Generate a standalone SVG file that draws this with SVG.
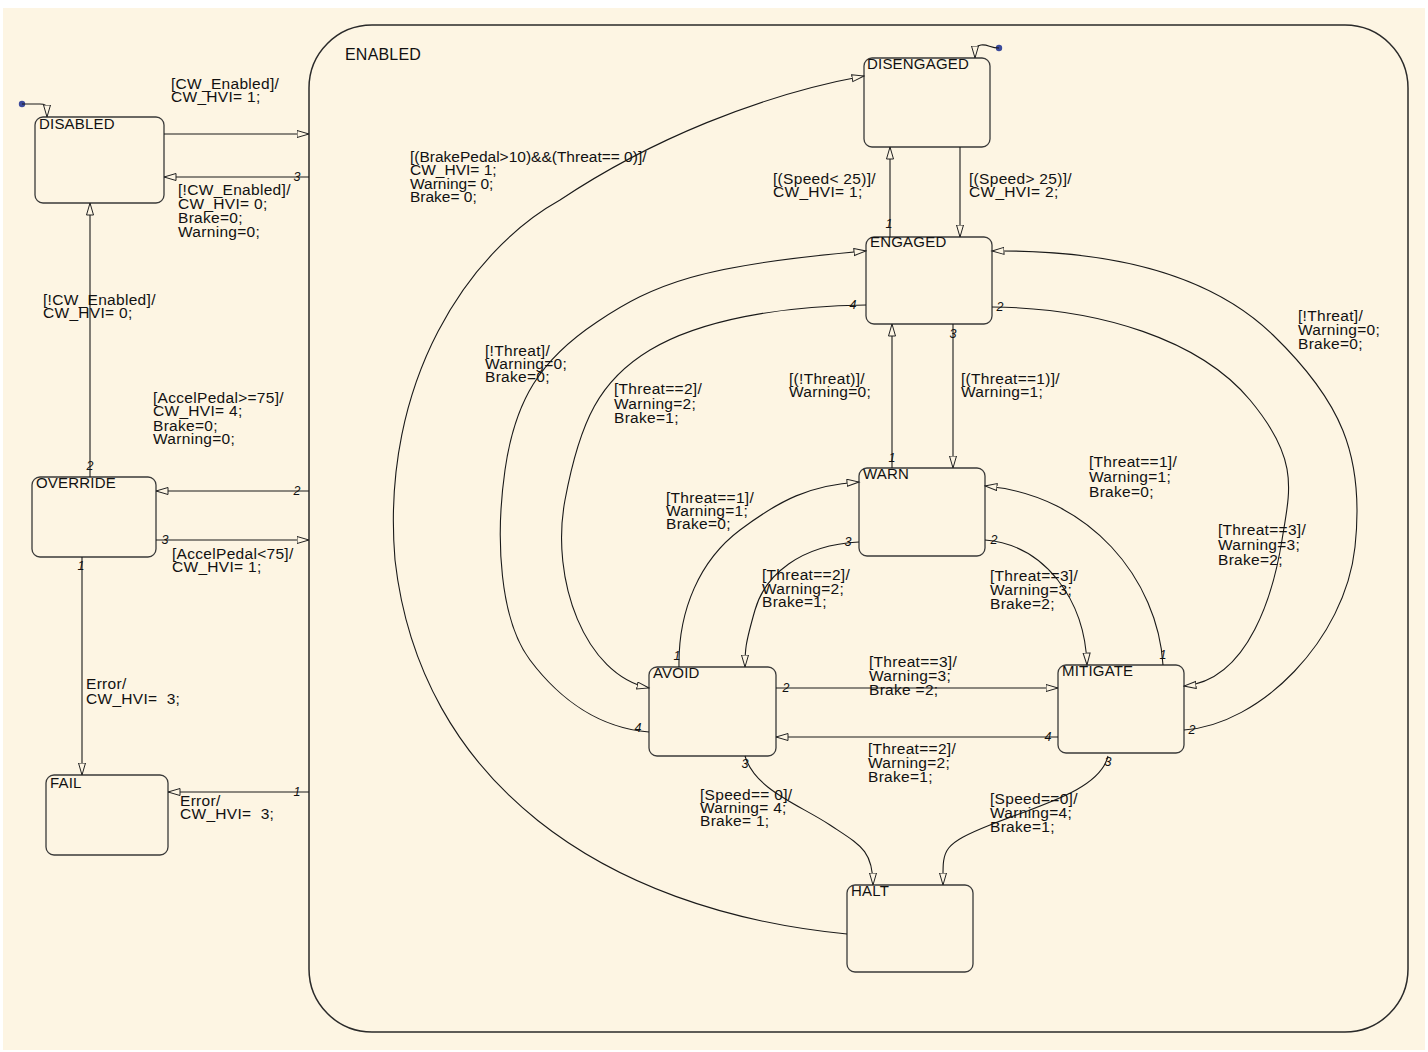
<svg xmlns="http://www.w3.org/2000/svg" width="1428" height="1052" viewBox="0 0 1428 1052">
<defs>
<style>
.bg{fill:#FDF5E3}
.st{fill:#FDF5E3;stroke:#3a3a3a;stroke-width:1.3}
.sup{fill:none;stroke:#2a2a2a;stroke-width:1.5}
.name{font-family:"Liberation Sans",Arial,sans-serif;font-size:15px;fill:#111;letter-spacing:0.2px}
.lbl{font-family:"Liberation Sans",Arial,sans-serif;font-size:15.5px;fill:#111;letter-spacing:0.3px}
.num{font-family:"Liberation Sans",Arial,sans-serif;font-size:12.5px;font-style:italic;fill:#111;text-anchor:middle}
.tr{fill:none;stroke:#1a1a1a;stroke-width:1.1;marker-end:url(#arr)}
.dot{fill:#3b4a9c}
</style>
<marker id="arr" markerWidth="14" markerHeight="10" refX="12.5" refY="4" orient="auto" markerUnits="userSpaceOnUse">
<path d="M0.5,0.5 L12.5,4 L0.5,7.5 Z" fill="#FDF5E3" stroke="#222" stroke-width="1"/>
</marker>
</defs>
<rect x="0" y="0" width="1428" height="1052" fill="#ffffff"/>
<rect class="bg" x="3" y="8" width="1422" height="1042"/>

<g id="ENABLED">
<rect class="sup" x="309" y="25" width="1099" height="1007" rx="63" ry="63"/>
<text class="name" x="345" y="60" style="font-size:16px">ENABLED</text>
</g>

<g id="DISABLED"><rect class="st" x="35" y="117" width="129" height="86" rx="8"/><text class="name" x="39" y="129">DISABLED</text></g>
<g id="OVERRIDE"><rect class="st" x="32" y="477" width="124" height="80" rx="8"/><text class="name" x="36" y="488">OVERRIDE</text></g>
<g id="FAIL"><rect class="st" x="46" y="775" width="122" height="80" rx="8"/><text class="name" x="50" y="788">FAIL</text></g>
<g id="DISENGAGED"><rect class="st" x="864" y="58" width="126" height="89" rx="8"/><text class="name" x="867" y="69">DISENGAGED</text></g>
<g id="ENGAGED"><rect class="st" x="866" y="237" width="126" height="87" rx="8"/><text class="name" x="870" y="247">ENGAGED</text></g>
<g id="WARN"><rect class="st" x="859" y="468" width="126" height="88" rx="8"/><text class="name" x="863" y="479">WARN</text></g>
<g id="AVOID"><rect class="st" x="649" y="667" width="127" height="89" rx="8"/><text class="name" x="653" y="678">AVOID</text></g>
<g id="MITIGATE"><rect class="st" x="1058" y="665" width="126" height="88" rx="8"/><text class="name" x="1062" y="676">MITIGATE</text></g>
<g id="HALT"><rect class="st" x="847" y="885" width="126" height="87" rx="8"/><text class="name" x="851" y="896">HALT</text></g>

<g id="connectors">
<circle class="dot" cx="22" cy="104" r="3.2"/>
<path class="tr" d="M22,104 L40,104 C45,104 47,106 47,108 L47,117"/>
<circle class="dot" cx="999" cy="48" r="3.2"/>
<path class="tr" d="M999,48 C990,48 988,44 981,45 C976,46 975,48 975,50 L975,58"/>

<path class="tr" d="M164,134 H309"/>
<path class="tr" d="M309,177 H164"/>
<path class="tr" d="M90,477 V203"/>
<path class="tr" d="M309,491 H156"/>
<path class="tr" d="M156,540 H309"/>
<path class="tr" d="M82,557 V775"/>
<path class="tr" d="M309,792 H168"/>

<path class="tr" d="M960,147 V237"/>
<path class="tr" d="M890,237 V147"/>
<path class="tr" d="M953,324 V468"/>
<path class="tr" d="M892,468 V324"/>

<path class="tr" d="M847,934 C600,910 420,780 395,560 C380,380 470,250 560,200 C650,140 760,95 864,76"/>

<path class="tr" d="M866,305 C780,306 700,320 650,350 S580,420 565,500 S585,675 649,688"/>
<path class="tr" d="M649,732 C600,728 560,700 530,660 S495,540 505,470 S540,360 597,322 S700,265 866,251"/>

<path class="tr" d="M992,307 C1100,308 1200,340 1250,400 S1290,490 1282,540 S1250,680 1184,686"/>
<path class="tr" d="M1184,730 C1260,725 1345,640 1355,547 S1340,400 1273,335 S1100,250 992,251"/>

<path class="tr" d="M679,667 C678,610 700,560 740,530 S810,485 859,482"/>
<path class="tr" d="M859,542 C800,545 765,575 755,610 S745,650 745,667"/>
<path class="tr" d="M985,540 C1045,545 1085,600 1087,665"/>
<path class="tr" d="M1163,665 C1158,580 1090,495 985,486"/>

<path class="tr" d="M776,688 H1058"/>
<path class="tr" d="M1058,737 H776"/>

<path class="tr" d="M745,756 C755,790 800,805 830,825 S873,850 873,885"/>
<path class="tr" d="M1108,756 C1100,790 1040,805 990,825 S943,850 943,885"/>
</g>

<g id="numbers">
<text class="num" x="297" y="181">3</text>
<text class="num" x="90" y="470">2</text>
<text class="num" x="297" y="495">2</text>
<text class="num" x="165" y="544">3</text>
<text class="num" x="81" y="570">1</text>
<text class="num" x="297" y="796">1</text>
<text class="num" x="889" y="228">1</text>
<text class="num" x="853" y="309">4</text>
<text class="num" x="1000" y="311">2</text>
<text class="num" x="953" y="338">3</text>
<text class="num" x="892" y="462">1</text>
<text class="num" x="848" y="546">3</text>
<text class="num" x="994" y="544">2</text>
<text class="num" x="677" y="660">1</text>
<text class="num" x="786" y="692">2</text>
<text class="num" x="638" y="732">4</text>
<text class="num" x="745" y="768">3</text>
<text class="num" x="1048" y="741">4</text>
<text class="num" x="1163" y="659">1</text>
<text class="num" x="1192" y="734">2</text>
<text class="num" x="1108" y="766">3</text>
</g>

<g id="labels">
<text class="lbl"><tspan x="171" y="89">[CW_Enabled]/</tspan><tspan x="171" y="102">CW_HVI= 1;</tspan></text>
<text class="lbl"><tspan x="178" y="195">[!CW_Enabled]/</tspan><tspan x="178" y="209">CW_HVI= 0;</tspan><tspan x="178" y="223">Brake=0;</tspan><tspan x="178" y="237">Warning=0;</tspan></text>
<text class="lbl"><tspan x="43" y="305">[!CW_Enabled]/</tspan><tspan x="43" y="318">CW_HVI= 0;</tspan></text>
<text class="lbl"><tspan x="153" y="403">[AccelPedal&gt;=75]/</tspan><tspan x="153" y="416">CW_HVI= 4;</tspan><tspan x="153" y="431">Brake=0;</tspan><tspan x="153" y="444">Warning=0;</tspan></text>
<text class="lbl"><tspan x="172" y="559">[AccelPedal&lt;75]/</tspan><tspan x="172" y="572">CW_HVI= 1;</tspan></text>
<text class="lbl" xml:space="preserve"><tspan x="86" y="689">Error/</tspan><tspan x="86" y="704">CW_HVI=  3;</tspan></text>
<text class="lbl" xml:space="preserve"><tspan x="180" y="806">Error/</tspan><tspan x="180" y="819">CW_HVI=  3;</tspan></text>
<text class="lbl" style="letter-spacing:0"><tspan x="410" y="162">[(BrakePedal&gt;10)&amp;&amp;(Threat== 0)]/</tspan><tspan x="410" y="175">CW_HVI= 1;</tspan><tspan x="410" y="189">Warning= 0;</tspan><tspan x="410" y="202">Brake= 0;</tspan></text>
<text class="lbl"><tspan x="773" y="184">[(Speed&lt; 25)]/</tspan><tspan x="773" y="197">CW_HVI= 1;</tspan></text>
<text class="lbl"><tspan x="969" y="184">[(Speed&gt; 25)]/</tspan><tspan x="969" y="197">CW_HVI= 2;</tspan></text>
<text class="lbl"><tspan x="789" y="384">[(!Threat)]/</tspan><tspan x="789" y="397">Warning=0;</tspan></text>
<text class="lbl"><tspan x="961" y="384">[(Threat==1)]/</tspan><tspan x="961" y="397">Warning=1;</tspan></text>
<text class="lbl"><tspan x="485" y="356">[!Threat]/</tspan><tspan x="485" y="369">Warning=0;</tspan><tspan x="485" y="382">Brake=0;</tspan></text>
<text class="lbl"><tspan x="614" y="394">[Threat==2]/</tspan><tspan x="614" y="409">Warning=2;</tspan><tspan x="614" y="423">Brake=1;</tspan></text>
<text class="lbl"><tspan x="1298" y="321">[!Threat]/</tspan><tspan x="1298" y="335">Warning=0;</tspan><tspan x="1298" y="349">Brake=0;</tspan></text>
<text class="lbl"><tspan x="1089" y="467">[Threat==1]/</tspan><tspan x="1089" y="482">Warning=1;</tspan><tspan x="1089" y="497">Brake=0;</tspan></text>
<text class="lbl"><tspan x="1218" y="535">[Threat==3]/</tspan><tspan x="1218" y="550">Warning=3;</tspan><tspan x="1218" y="565">Brake=2;</tspan></text>
<text class="lbl"><tspan x="666" y="503">[Threat==1]/</tspan><tspan x="666" y="516">Warning=1;</tspan><tspan x="666" y="529">Brake=0;</tspan></text>
<text class="lbl"><tspan x="762" y="580">[Threat==2]/</tspan><tspan x="762" y="594">Warning=2;</tspan><tspan x="762" y="607">Brake=1;</tspan></text>
<text class="lbl"><tspan x="990" y="581">[Threat==3]/</tspan><tspan x="990" y="595">Warning=3;</tspan><tspan x="990" y="609">Brake=2;</tspan></text>
<text class="lbl"><tspan x="869" y="667">[Threat==3]/</tspan><tspan x="869" y="681">Warning=3;</tspan><tspan x="869" y="695">Brake =2;</tspan></text>
<text class="lbl"><tspan x="868" y="754">[Threat==2]/</tspan><tspan x="868" y="768">Warning=2;</tspan><tspan x="868" y="782">Brake=1;</tspan></text>
<text class="lbl"><tspan x="700" y="800">[Speed== 0]/</tspan><tspan x="700" y="813">Warning= 4;</tspan><tspan x="700" y="826">Brake= 1;</tspan></text>
<text class="lbl"><tspan x="990" y="804">[Speed==0]/</tspan><tspan x="990" y="818">Warning=4;</tspan><tspan x="990" y="832">Brake=1;</tspan></text>
</g>
</svg>
